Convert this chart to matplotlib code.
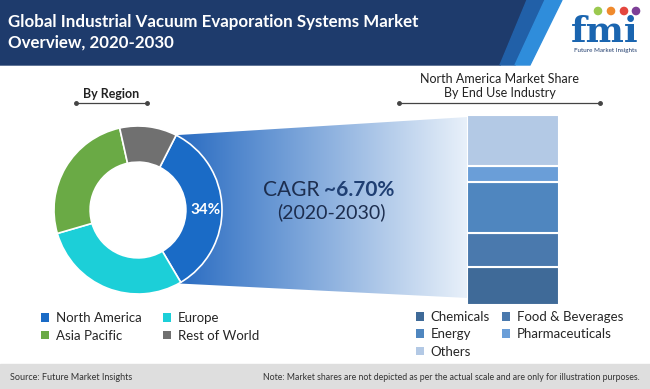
import numpy as np
import matplotlib.pyplot as plt
from matplotlib.patches import Polygon, Rectangle, Circle, Patch
from matplotlib.colors import LinearSegmentedColormap

# data
regions = ["North America", "Europe", "Asia Pacific", "Rest of World"]
region_share = [34, 29, 26, 11]
region_colors = ["#1a6bc6", "#1ccfd8", "#6aaa45", "#707070"]

industries = ["Chemicals", "Food & Beverages", "Energy", "Pharmaceuticals", "Others"]
na_industry_share = [20, 18, 27, 8, 27]
industry_colors = ["#3f6a98", "#4a79ad", "#4f86bf", "#6a9ed8", "#b3c9e5"]

cagr = "~6.70%"
period = "(2020-2030)"

W, H = 650, 389
fig = plt.figure(figsize=(6.5, 3.89), dpi=100)
plt.rcParams["font.family"] = ["Lato", "DejaVu Sans"]

# background axes in pixel coords
bg = fig.add_axes([0, 0, 1, 1])
bg.axis("off")

# header
bg.add_patch(Polygon([(0, 0), (527, 0), (500, 65), (0, 65)], color="#1e3b6c"))
bg.add_patch(Polygon([(527, 0), (545, 0), (515, 65), (500, 65)], color="#2160a8"))
bg.add_patch(Polygon([(545, 0), (562, 0), (530, 65), (515, 65)], color="#2f8ddb"))
bg.text(8, 27, "Global Industrial Vacuum Evaporation Systems Market", color="white",
        fontsize=12.2, fontweight="bold", va="baseline")
bg.text(8, 48, "Overview, 2020-2030", color="white", fontsize=12.2, fontweight="bold",
        va="baseline")

# logo
bg.text(605, 42, "fmi", family="DejaVu Serif", fontweight="bold", fontsize=26,
        color="#1a65b0", ha="center", va="baseline")
for x, c in zip([598, 611, 624, 636], ["#9bc94f", "#f08a2c", "#e4473f", "#7d3f97"]):
    bg.add_patch(Circle((x, 11), 3.6, color=c))
bg.text(605, 50, "Future Market Insights", fontsize=4.5, color="#1e3b6c",
        ha="center", va="center")

# funnel from donut to bar
cx, cy, R = 138, 210, 84
arc = np.linspace(np.deg2rad(-61), np.deg2rad(63), 40)
pts = [(468, 117), (468, 298)] + [(cx + R * np.cos(t), cy - R * np.sin(t)) for t in arc]
funnel = Polygon(pts, closed=True, facecolor="none", edgecolor="none")
bg.add_patch(funnel)
cmap = LinearSegmentedColormap.from_list("funnel", ["#2468c0", "#e9f1fa"])
grad = np.linspace(0, 1, 256).reshape(1, -1)
im = bg.imshow(grad, extent=(170, 468, 300, 115), cmap=cmap, aspect="auto")
im.set_clip_path(funnel)

# section titles
bg.text(111, 94, "By Region", ha="center", va="center", fontsize=9,
        fontweight="bold", color="#222222")
bg.plot([76, 147], [103, 103], color="#444444", lw=0.9, marker="o", markersize=2.5)
bg.text(500, 79, "North America Market Share", ha="center", va="center",
        fontsize=9, color="#222222")
bg.text(500, 93, "By End Use Industry", ha="center", va="center",
        fontsize=9, color="#222222")
bg.plot([399, 600], [103, 103], color="#444444", lw=0.9, marker="o", markersize=2.5)

# CAGR
bg.text(320, 190, "CAGR", ha="right", va="center", fontsize=15, color="#1d2e4f")
bg.text(324, 190, cagr, ha="left", va="center", fontsize=15, fontweight="bold",
        color="#1f3f73")
bg.text(331, 212, period, ha="center", va="center", fontsize=14, color="#1d2e4f")

# footer
bg.add_patch(Rectangle((0, 364), W, 25, color="#dedede"))
bg.text(10, 377, "Source: Future Market Insights", fontsize=6.5, va="center",
        color="#333333")
bg.text(640, 377, "Note: Market shares are not depicted as per the actual scale and "
        "are only for illustration purposes.", fontsize=6.3, va="center", ha="right",
        color="#333333")

bg.set_xlim(0, W)
bg.set_ylim(H, 0)

# donut
dax = fig.add_axes([(cx - R) / W, (H - cy - R) / H, 2 * R / W, 2 * R / H])
wedges, _ = dax.pie(region_share, colors=region_colors, startangle=63,
                    counterclock=False, radius=1,
                    wedgeprops=dict(width=0.43, edgecolor="white", linewidth=1.2))
dax.text(0.8, 0.0, f"{region_share[0]}%", ha="center", va="center", color="white",
         fontsize=11, fontweight="bold")
dax.set_xlim(-1, 1)
dax.set_ylim(-1, 1)

# stacked bar
bax = fig.add_axes([467 / W, (H - 305) / H, 92 / W, 190 / H])
bottoms = np.concatenate([[0], np.cumsum(na_industry_share)[:-1]])
bax.bar([0] * len(industries), na_industry_share, bottom=bottoms, width=1,
        color=industry_colors, edgecolor="white", linewidth=1.5)
bax.set_xlim(-0.5, 0.5)
bax.set_ylim(0, 100)
bax.axis("off")

# legends
order = [0, 2, 1, 3]
fig.legend([Patch(facecolor=region_colors[i]) for i in order], [regions[i] for i in order],
           ncol=2, loc="upper left", bbox_to_anchor=(41 / W, 1 - 312 / H),
           frameon=False, prop=dict(size=9.5), labelcolor="#262626",
           handlelength=0.6, handleheight=0.6, handletextpad=0.5,
           columnspacing=1.65, labelspacing=0.45, borderpad=0, borderaxespad=0)
order = [0, 2, 4, 1, 3]
fig.legend([Patch(facecolor=industry_colors[i]) for i in order], [industries[i] for i in order],
           ncol=2, loc="upper left", bbox_to_anchor=(416 / W, 1 - 311 / H),
           frameon=False, prop=dict(size=9.5), labelcolor="#262626",
           handlelength=0.6, handleheight=0.6, handletextpad=0.5,
           columnspacing=0.95, labelspacing=0.4, borderpad=0, borderaxespad=0)

fig.savefig("out.png", dpi=100)
